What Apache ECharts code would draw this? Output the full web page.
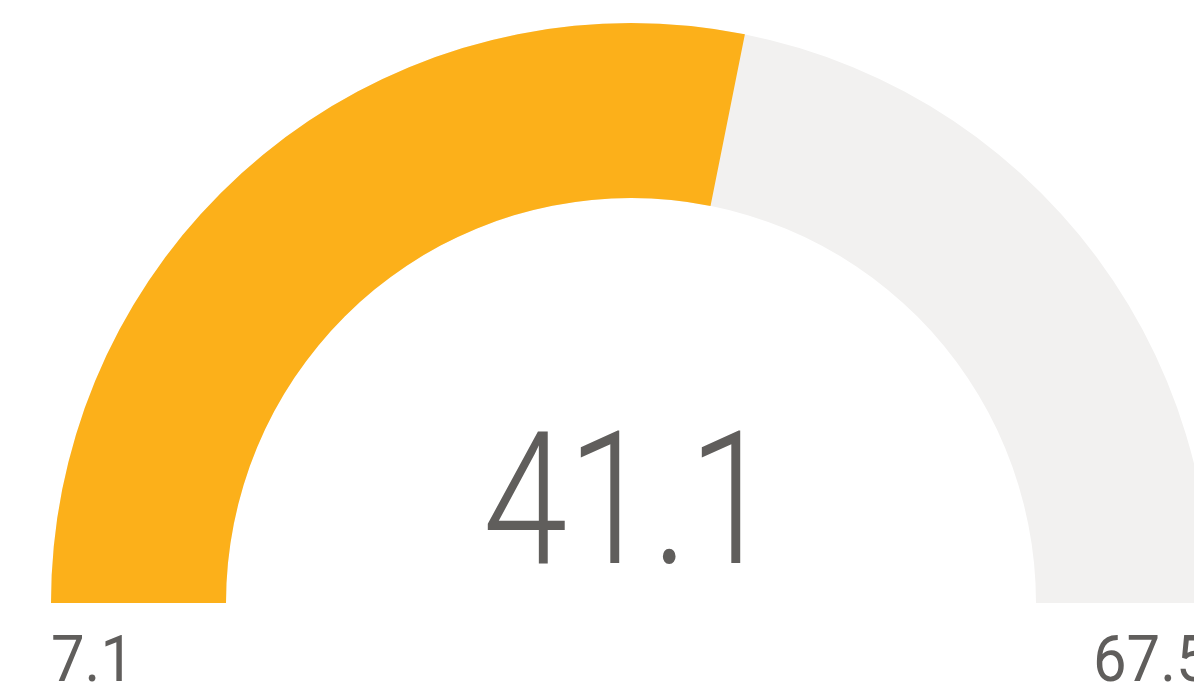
<!DOCTYPE html>
<html>
<head>
<meta charset="utf-8">
<style>
html,body{margin:0;padding:0;background:#fff;}
#chart{width:1194px;height:691px;}
</style>
<script src="https://cdn.jsdelivr.net/npm/echarts@6/dist/echarts.min.js"></script>
</head>
<body>
<div id="chart"></div>
<script>
const gaugeMin = 7.1;
const gaugeMax = 67.5;
const gaugeValue = [41.1];
const minLabel = ['7.1'];
const maxLabel = ['67.5'];

const chart = echarts.init(document.getElementById('chart'), null, {renderer: 'canvas'});
const textColor = '#605E5C';
const option = {
  backgroundColor: '#ffffff',
  animation: false,
  series: [{
    type: 'gauge',
    center: [631, 603],
    radius: 580,
    startAngle: 180,
    endAngle: 0,
    min: gaugeMin,
    max: gaugeMax,
    splitNumber: 1,
    axisLine: { lineStyle: { width: 175, color: [[1, '#F2F1F0']] } },
    progress: { show: true, width: 175, roundCap: false, itemStyle: { color: '#FCB01A' } },
    pointer: { show: false },
    anchor: { show: false },
    axisTick: { show: false },
    splitLine: { show: false },
    axisLabel: { show: false },
    title: { show: false },
    detail: { show: false },
    data: [{ value: gaugeValue[0] }]
  }],
  graphic: [
    {
      type: 'text', x: 628, y: 516, scaleX: 0.82,
      style: {
        text: String(gaugeValue[0]), align: 'center', verticalAlign: 'middle',
        fill: textColor, font: '300 186px Roboto'
      }
    },
    {
      type: 'text', x: 51, y: 665, scaleX: 0.92,
      style: { text: minLabel[0], align: 'left', verticalAlign: 'middle', fill: textColor, font: '400 65px Roboto' }
    },
    {
      type: 'text', x: 1093, y: 665, scaleX: 0.92,
      style: { text: maxLabel[0], align: 'left', verticalAlign: 'middle', fill: textColor, font: '400 65px Roboto' }
    }
  ]
};
chart.setOption(option);
</script>
</body>
</html>
